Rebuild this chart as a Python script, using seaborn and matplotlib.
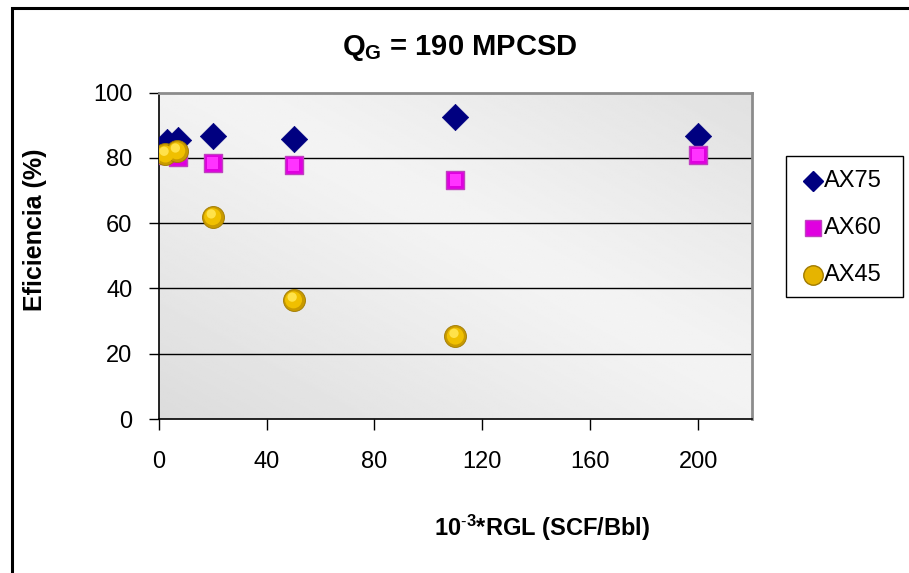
import numpy as np
import pandas as pd
import matplotlib
matplotlib.use("Agg")
import matplotlib.pyplot as plt
import seaborn as sns
from matplotlib.lines import Line2D
from matplotlib.patches import Rectangle
from matplotlib.transforms import ScaledTranslation

# ---- data ----
rgl_ax75 = [3, 7, 20, 50, 110, 200]
eff_ax75 = [85.0, 85.5, 86.7, 85.8, 92.5, 86.7]
rgl_ax60 = [3, 7, 20, 50, 110, 200]
eff_ax60 = [80.8, 80.4, 78.5, 77.8, 73.2, 80.9]
rgl_ax45 = [2.5, 6.7, 20, 50, 110]
eff_ax45 = [81.2, 82.2, 62.0, 36.5, 25.4]
series_names = ["AX75", "AX60", "AX45"]
x_ticks = [0, 40, 80, 120, 160, 200]
y_ticks = [0, 20, 40, 60, 80, 100]

sns.set_theme(style="white")
plt.rcParams["font.family"] = ["Liberation Sans", "DejaVu Sans"]
plt.rcParams["mathtext.fontset"] = "custom"
plt.rcParams["mathtext.rm"] = "Liberation Sans"
plt.rcParams["mathtext.bf"] = "Liberation Sans:bold"
plt.rcParams["mathtext.it"] = "Liberation Sans:italic"
for k in ["text.color", "axes.labelcolor", "xtick.color", "ytick.color"]:
    plt.rcParams[k] = "black"

W, H = 909, 573
fig = plt.figure(figsize=(W / 100, H / 100), dpi=100)
fig.patch.set_facecolor("white")

# outer chart border
fig.add_artist(Rectangle((12 / W, -0.1), 1.2, (H - 8) / H + 0.1,
                         transform=fig.transFigure, fill=False,
                         edgecolor="black", lw=2.2))

L, R, T, B = 158.7, 752, 92.7, 419
ax = fig.add_axes([L / W, (H - B) / H, (R - L) / W, (B - T) / H])

# gradient background
n = 200
xx, yy = np.meshgrid(np.linspace(0, 1, n), np.linspace(0, 1, n))
u = (xx + yy) / 2
val = 0.955 - 0.18 * np.abs(u - 0.55) ** 1.1
ax.imshow(val, cmap="gray", vmin=0, vmax=1, extent=[0, 1, 0, 1],
          transform=ax.transAxes, origin="lower", aspect="auto", zorder=0,
          interpolation="bilinear")

ax.set_xlim(0, 220)
ax.set_ylim(0, 100)
ax.set_xticks(x_ticks)
ax.set_yticks(y_ticks)
ax.tick_params(axis="both", labelsize=17, colors="black", width=1,
               direction="out")
ax.tick_params(axis="x", bottom=True, length=8, pad=15)
ax.tick_params(axis="y", left=True, length=7, pad=12)
for yv in y_ticks[1:-1]:
    ax.axhline(yv, color="black", lw=1, zorder=1)

for s in ["left", "bottom"]:
    ax.spines[s].set_color("black")
    ax.spines[s].set_linewidth(1.2)
for s in ["top", "right"]:
    ax.spines[s].set_color("#8c8c8c")
    ax.spines[s].set_linewidth(2)

df75 = pd.DataFrame({"x": rgl_ax75, "y": eff_ax75})
df60 = pd.DataFrame({"x": rgl_ax60, "y": eff_ax60})
df45 = pd.DataFrame({"x": rgl_ax45, "y": eff_ax45})

sns.scatterplot(data=df75, x="x", y="y", ax=ax, marker="D", s=180,
                color="#000080", edgecolor="#000080", linewidth=0.5,
                zorder=3, legend=False)
sns.scatterplot(data=df60, x="x", y="y", ax=ax, marker="s", s=180,
                color="#e000e0", edgecolor="#c040c0", linewidth=1.0,
                zorder=4, legend=False)
sns.scatterplot(data=df60, x="x", y="y", ax=ax, marker="s", s=70,
                color="#ff33ff", edgecolor="none", linewidth=0,
                zorder=4.5, legend=False)
sns.scatterplot(data=df45, x="x", y="y", ax=ax, marker="o", s=250,
                color="#c89a00", edgecolor="#a07a00", linewidth=0.6,
                zorder=5, legend=False)
sns.scatterplot(data=df45, x="x", y="y", ax=ax, marker="o", s=150,
                color="#f0c000", edgecolor="none", linewidth=0,
                zorder=6, legend=False)
sns.scatterplot(data=df45, x="x", y="y", ax=ax, marker="o", s=45,
                color="#ffe24a", edgecolor="none", linewidth=0,
                zorder=7, legend=False)
hl = ax.collections[-1]
hl.set_offset_transform(ax.transData +
                        ScaledTranslation(-1.0 / 72, 2.0 / 72,
                                          fig.dpi_scale_trans))
ax.set_xlabel("")
ax.set_ylabel("")

# title and axis labels
fig.text(460 / W, 1 - 48 / H, r"Q$_\mathbf{G}$ = 190 MPCSD", ha="center",
         va="center", fontsize=21, fontweight="bold")
fig.text(542 / W, 1 - 528 / H, r"10$^{\mathbf{\text{-}3}}$*RGL (SCF/Bbl)",
         ha="center", va="center", fontsize=17, fontweight="bold")
fig.text(35 / W, 1 - 230 / H, "Eficiencia (%)", ha="center", va="center",
         rotation=90, fontsize=18, fontweight="bold")

# legend (drawn manually to match the box)
fig.add_artist(Rectangle((786 / W, 1 - 297 / H), 117 / W, 141 / H,
                         transform=fig.transFigure, facecolor="white",
                         edgecolor="black", lw=1))
rows_y = [181, 228, 275]
styles = [
    dict(marker="D", ms=10, markerfacecolor="#000080",
         markeredgecolor="#000080"),
    dict(marker="s", ms=12, markerfacecolor="#e000e0",
         markeredgecolor="#c040c0"),
    dict(marker="o", ms=14, markerfacecolor="#e6b400",
         markeredgecolor="#a07a00"),
]
for name, yv, st in zip(series_names, rows_y, styles):
    fig.add_artist(Line2D([813 / W], [1 - yv / H], ls="none",
                          transform=fig.transFigure, **st))
    fig.text(824 / W, 1 - yv / H, name, ha="left", va="center",
             fontsize=17)

fig.savefig("out.png", dpi=100, facecolor="white")
